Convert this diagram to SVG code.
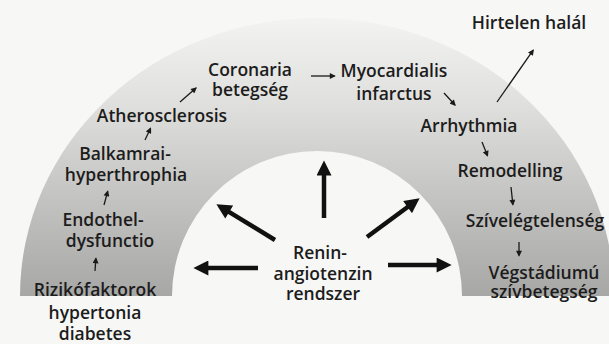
<svg xmlns="http://www.w3.org/2000/svg" width="609" height="344" viewBox="0 0 609 344">
<defs>
<linearGradient id="archGrad" gradientUnits="userSpaceOnUse" x1="0" y1="18" x2="0" y2="296">
<stop offset="0" stop-color="#f3f3f1"/>
<stop offset="0.3" stop-color="#e0e0de"/>
<stop offset="0.65" stop-color="#c3c3c1"/>
<stop offset="1" stop-color="#a7a7a5"/>
</linearGradient>
<marker id="bigHead" viewBox="0 0 10 10" refX="6" refY="5" markerWidth="16" markerHeight="15" markerUnits="userSpaceOnUse" orient="auto">
<path d="M0,0 L10,5 L0,10 z" fill="#111"/>
</marker>
<marker id="smallHead" viewBox="0 0 10 10" refX="8" refY="5" markerWidth="7" markerHeight="6" markerUnits="userSpaceOnUse" orient="auto">
<path d="M0,0 L10,5 L0,10 z" fill="#1a1a1a"/>
</marker>
</defs>
<style>
text{font-family:"Open Sans","Noto Sans","DejaVu Sans",sans-serif;font-weight:600;font-size:17.5px;fill:#1c1c1c;text-anchor:middle}
.big{stroke:#111;stroke-width:4.5;fill:none;marker-end:url(#bigHead)}
.small{stroke:#1a1a1a;stroke-width:1.3;fill:none;marker-end:url(#smallHead)}
</style>
<rect x="0" y="0" width="609" height="344" fill="#f7f7f5"/>
<path id="arch" d="M20,296 A297,278 0 0 1 614,296 L462,296 A145,145 0 0 0 172,296 Z" fill="url(#archGrad)"/>
<g id="connectors">
<line class="big" x1="324" y1="218" x2="324" y2="166.4"/>
<line class="big" x1="275" y1="240" x2="221.5" y2="207.3"/>
<line class="big" x1="367" y1="237" x2="414.8" y2="201.8"/>
<line class="big" x1="258" y1="268" x2="199.4" y2="268"/>
<line class="big" x1="388" y1="265" x2="445.6" y2="265"/>
<line class="small" x1="311" y1="76" x2="334.6" y2="76"/>
<line class="small" x1="180" y1="102" x2="196" y2="88"/>
<line class="small" x1="145" y1="140" x2="150.5" y2="128.3"/>
<line class="small" x1="104" y1="205" x2="107.7" y2="191.4"/>
<line class="small" x1="95" y1="271" x2="95.9" y2="258.4"/>
<line class="small" x1="444" y1="93" x2="455" y2="105"/>
<line class="small" x1="497" y1="102" x2="533.2" y2="50.2"/>
<line class="small" x1="482" y1="142" x2="487.5" y2="155.7"/>
<line class="small" x1="511" y1="187" x2="512.9" y2="204.6"/>
<line class="small" x1="519" y1="242" x2="519" y2="255.6"/>
</g>
<g id="hirtelen"><text x="529" y="29">Hirtelen halál</text></g>
<g id="coronaria"><text x="250" y="76">Coronaria</text><text x="250" y="96">betegség</text></g>
<g id="myocardialis"><text x="394" y="77">Myocardialis</text><text x="394" y="100">infarctus</text></g>
<g id="atherosclerosis"><text x="162" y="122">Atherosclerosis</text></g>
<g id="arrhythmia"><text x="469" y="132">Arrhythmia</text></g>
<g id="balkamrai"><text x="125" y="160">Balkamrai-</text><text x="126" y="181">hyperthrophia</text></g>
<g id="remodelling"><text x="510" y="177">Remodelling</text></g>
<g id="endothel"><text x="103" y="226">Endothel-</text><text x="110" y="247">dysfunctio</text></g>
<g id="szivelegtelenseg"><text x="535" y="227">Szívelégtelenség</text></g>
<g id="renin"><text x="320" y="259">Renin-</text><text x="323" y="280">angiotenzin</text><text x="323" y="300">rendszer</text></g>
<g id="vegstadium"><text x="544" y="279">Végstádiumú</text><text x="544" y="298">szívbetegség</text></g>
<g id="rizikofaktorok"><text x="95" y="296">Rizikófaktorok</text><text x="95" y="319">hypertonia</text><text x="95" y="340">diabetes</text></g>
</svg>
